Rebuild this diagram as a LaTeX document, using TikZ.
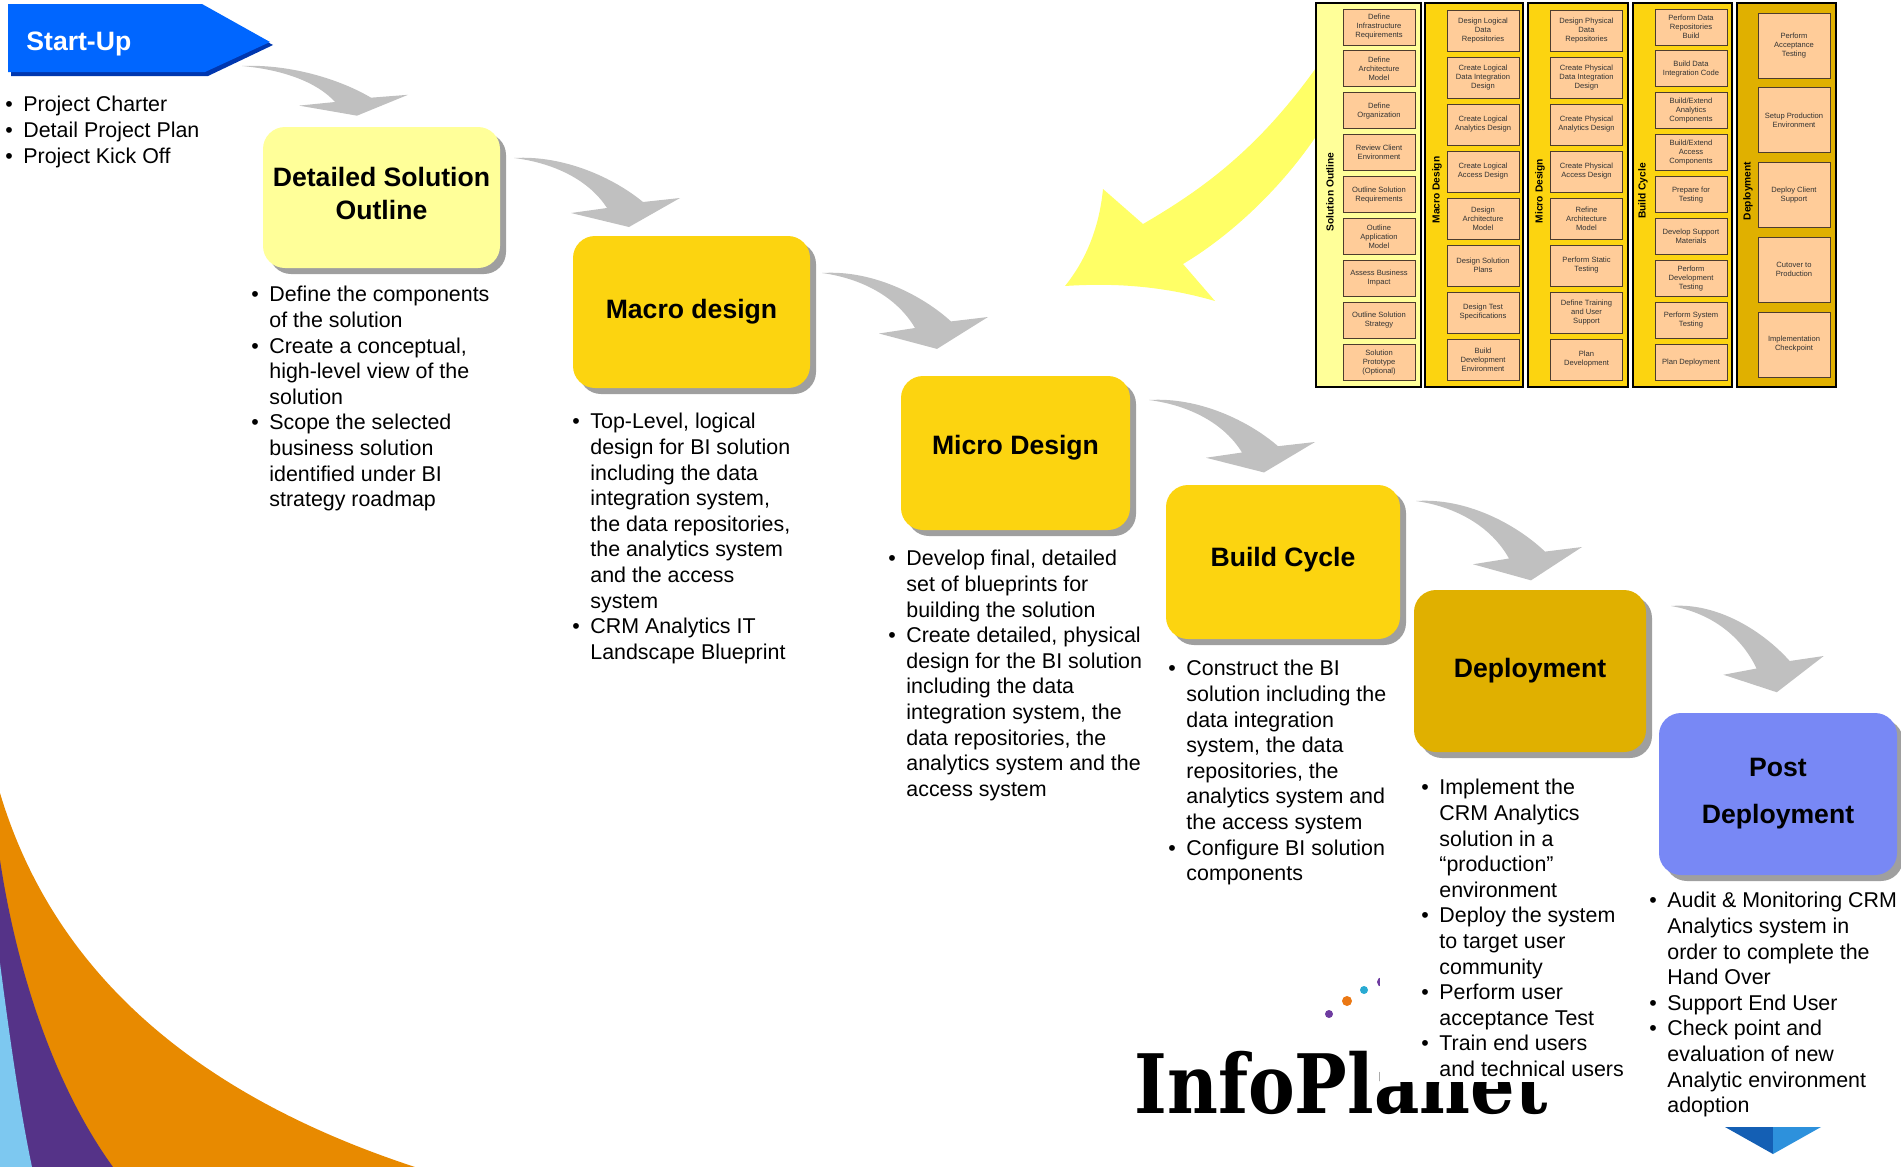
\documentclass[tikz,border=0pt]{standalone}
\usepackage{fontspec}
\setmainfont{Liberation Sans}
\newfontfamily\logofont{DejaVu Serif}
\usetikzlibrary{shadows}

\definecolor{startblue}{RGB}{0,102,255}
\definecolor{startshade}{RGB}{0,55,175}
\definecolor{paleyellow}{RGB}{255,255,153}
\definecolor{gold}{RGB}{252,212,16}
\definecolor{darkgold}{RGB}{224,176,0}
\definecolor{periwinkle}{RGB}{120,136,245}
\definecolor{flowgray}{RGB}{192,192,192}
\definecolor{hiyellow}{RGB}{255,255,102}
\definecolor{peach}{RGB}{255,204,153}
\definecolor{taskedge}{RGB}{77,60,45}
\definecolor{swooshorange}{RGB}{232,138,0}
\definecolor{swooshpurple}{RGB}{85,51,136}
\definecolor{swooshblue}{RGB}{125,200,240}
\definecolor{dotpurple}{RGB}{110,60,160}
\definecolor{dotorange}{RGB}{235,120,20}
\definecolor{dotcyan}{RGB}{40,170,210}
\definecolor{cubedark}{RGB}{20,95,180}
\definecolor{cubelight}{RGB}{45,145,220}

\newcommand{\itm}{\makebox[9pt][l]{\textbullet}}
\newcommand{\nxt}{\hspace*{9pt}}

\begin{document}
\begin{tikzpicture}[
       x=0.5pt, y=-0.5pt,
       stage/.style={
         rectangle,
         rounded corners=11pt,
         align=center,
         font=\fontsize{13.3}{16.5}\bfseries,
         drop shadow={shadow xshift=3pt, shadow yshift=-3pt, fill=gray!75, opacity=1}
       },
       notes/.style={
         anchor=north west,
         align=left,
         inner sep=0pt,
         font=\fontsize{10.7}{12.8}\selectfont
       },
       phase/.style={draw=black, line width=0.6pt},
       phaselabel/.style={rotate=90, inner sep=0pt, font=\fontsize{5.1}{6}\bfseries},
       task/.style={
         draw=taskedge,
         fill=peach,
         line width=0.5pt,
         minimum width=36pt,
         inner sep=0pt,
         align=center,
         text=black!80,
         font=\fontsize{3.8}{4.5}\selectfont
       },
       grayflow/.pic={
         \fill[flowgray] (0,0) .. controls (50,-3) and (100,20) .. (129,44)
           -- (166,40) -- (115,69) -- (57,55) -- (93,50)
           .. controls (75,22) and (40,5) .. (0,0) -- cycle;
       }
     ]
       \useasboundingbox (0,0) rectangle (1901,1167);

       % corner swooshes
       \fill[swooshorange] (0,793) .. controls (50,960) and (180,1090) .. (415,1167) -- (0,1167) -- cycle;
       \fill[swooshpurple] (0,860) .. controls (15,960) and (50,1080) .. (113,1167) -- (0,1167) -- cycle;
       \fill[swooshblue] (0,963) .. controls (10,1040) and (20,1110) .. (32,1167) -- (0,1167) -- cycle;

       % big yellow arrow out of the phase table
       \fill[hiyellow] (1103,189) -- (1143,224) .. controls (1210,185) and (1270,140) .. (1335,40)
         -- (1335,105) .. controls (1300,170) and (1240,230) .. (1183,264)
         -- (1215,301) .. controls (1160,285) and (1110,283) .. (1065,286)
         .. controls (1090,255) and (1100,220) .. (1103,189) -- cycle;

       % phase table
       \draw[phase, fill=paleyellow] (1316,3) rectangle (1421,387);
       \draw[phase, fill=gold] (1425,3) rectangle (1523,387);
       \draw[phase, fill=gold] (1528,3) rectangle (1628,387);
       \draw[phase, fill=gold] (1633,3) rectangle (1732,387);
       \draw[phase, fill=darkgold] (1737,3) rectangle (1836,387);

       \node[phaselabel] (so) at (1330,192) {Solution Outline};
       \node[phaselabel] (ma) at (1437,190) {Macro Design};
       \node[phaselabel] (mi) at (1540,191) {Micro Design};
       \node[phaselabel] (bc) at (1643,191) {Build Cycle};
       \node[phaselabel] (de) at (1748,191) {Deployment};

       \foreach \t [count=\i from 0] in {{Define\\Infrastructure\\Requirements},
           {Define\\Architecture\\Model}, {Define\\Organization}, {Review Client\\Environment},
           {Outline Solution\\Requirements}, {Outline\\Application\\Model},
           {Assess Business\\Impact}, {Outline Solution\\Strategy}, {Solution\\Prototype\\(Optional)}}
         \node[task, minimum height=18pt] (so\i) at (1379,27+41.9*\i) {\t};

       \foreach \t [count=\i from 0] in {{Design Logical\\Data\\Repositories},
           {Create Logical\\Data Integration\\Design}, {Create Logical\\Analytics Design},
           {Create Logical\\Access Design}, {Design\\Architecture\\Model}, {Design Solution\\Plans},
           {Design Test\\Specifications}, {Build\\Development\\Environment}}
         \node[task, minimum height=20.5pt] (ma\i) at (1483,30.5+47*\i) {\t};

       \foreach \t [count=\i from 0] in {{Design Physical\\Data\\Repositories},
           {Create Physical\\Data Integration\\Design}, {Create Physical\\Analytics Design},
           {Create Physical\\Access Design}, {Refine\\Architecture\\Model}, {Perform Static\\Testing},
           {Define Training\\and User\\Support}, {Plan\\Development}}
         \node[task, minimum height=20.5pt] (mi\i) at (1586.5,30.5+47*\i) {\t};

       \foreach \t [count=\i from 0] in {{Perform Data\\Repositories\\Build},
           {Build Data\\Integration Code}, {Build/Extend\\Analytics\\Components},
           {Build/Extend\\Access\\Components}, {Prepare for\\Testing}, {Develop Support\\Materials},
           {Perform\\Development\\Testing}, {Perform System\\Testing}, {Plan Deployment}}
         \node[task, minimum height=18pt] (bc\i) at (1691,27+41.9*\i) {\t};

       \foreach \t [count=\i from 0] in {{Perform\\Acceptance\\Testing},
           {Setup Production\\Environment}, {Deploy Client\\Support}, {Cutover to\\Production},
           {Implementation\\Checkpoint}}
         \node[task, minimum height=32.5pt] (de\i) at (1794,45.5+74.75*\i) {\t};

       % start-up tab
       \fill[startshade] (11,8) -- (205,8) -- (273,45) -- (208,76) -- (11,76) -- cycle;
       \fill[startblue] (8,4) -- (202,4) -- (270,42) -- (205,72) -- (8,72) -- cycle;
       \node[anchor=base west, inner sep=0pt, text=white, font=\fontsize{13.3}{15}\bfseries] (startup) at (26,50) {Start-Up};

       % gray flow arrows
       \pic[yscale=0.72] at (242,66) {grayflow};
       \pic at (514,158) {grayflow};
       \pic[yscale=1.1] at (822,273) {grayflow};
       \pic[yscale=1.05] at (1149,400) {grayflow};
       \pic[yscale=1.15] at (1416,501) {grayflow};
       \pic[xscale=0.92, yscale=1.25] at (1671,606) {grayflow};

       % phases
       \node[stage, fill=paleyellow, minimum width=118.5pt, minimum height=70.5pt, text depth=4pt] (dso) at (381.5,197.5) {Detailed Solution\\Outline};
       \node[stage, fill=gold, minimum width=118.5pt, minimum height=76pt] (macro) at (691.5,312) {Macro design};
       \node[stage, fill=gold, minimum width=114.5pt, minimum height=77pt, text depth=8pt] (micro) at (1015.5,453) {Micro Design};
       \node[stage, fill=gold, minimum width=117pt, minimum height=77pt, text depth=5.5pt] (build) at (1283,562) {Build Cycle};
       \node[stage, fill=darkgold, minimum width=116pt, minimum height=81pt] (deploy) at (1530,671) {Deployment};
       \node[stage, fill=periwinkle, minimum width=119pt, minimum height=81pt, font=\fontsize{13.3}{23.5}\bfseries] (post) at (1778,794) {Post\\Deployment};

       % logo
       \fill[dotpurple] (1329,1014) circle (2pt);
       \fill[dotorange] (1347,1001) circle (2.5pt);
       \fill[dotcyan] (1364,990) circle (2pt);
       \fill[dotpurple] (1382,982) circle (2.5pt);
       \node[anchor=base west, inner sep=0pt, font=\logofont\bfseries\fontsize{41}{41}\selectfont] (logo) at (1134,1113) {\scalebox{0.854}[1]{InfoPlanet}};
       \fill[white] (1380,778) rectangle (1650,1082);
       \fill[cubedark] (1725,1127) -- (1773,1127) -- (1773,1154) -- cycle;
       \fill[cubelight] (1773,1127) -- (1821,1127) -- (1773,1154) -- cycle;

       % notes under each phase
       \node[notes] (n0) at (5,96) {\itm Project Charter\\ \itm Detail Project Plan\\ \itm Project Kick Off};
       \node[notes] (n1) at (251,286) {\itm Define the components\\ \nxt of the solution\\
         \itm Create a conceptual,\\ \nxt high-level view of the\\ \nxt solution\\
         \itm Scope the selected\\ \nxt business solution\\ \nxt identified under BI\\ \nxt strategy roadmap};
       \node[notes] (n2) at (572,413) {\itm Top-Level, logical\\ \nxt design for BI solution\\
         \nxt including the data\\ \nxt integration system,\\ \nxt the data repositories,\\
         \nxt the analytics system\\ \nxt and the access\\ \nxt system\\
         \itm CRM Analytics IT\\ \nxt Landscape Blueprint};
       \node[notes] (n3) at (888,550) {\itm Develop final, detailed\\ \nxt set of blueprints for\\
         \nxt building the solution\\ \itm Create detailed, physical\\ \nxt design for the BI solution\\
         \nxt including the data\\ \nxt integration system, the\\ \nxt data repositories, the\\
         \nxt analytics system and the\\ \nxt access system};
       \node[notes] (n4) at (1168,660) {\itm Construct the BI\\ \nxt solution including the\\
         \nxt data integration\\ \nxt system, the data\\ \nxt repositories, the\\
         \nxt analytics system and\\ \nxt the access system\\ \itm Configure BI solution\\ \nxt components};
       \node[notes] (n5) at (1421,779) {\itm Implement the\\ \nxt CRM Analytics\\ \nxt solution in a\\
         \nxt “production”\\ \nxt environment\\ \itm Deploy the system\\ \nxt to target user\\
         \nxt community\\ \itm Perform user\\ \nxt acceptance Test\\ \itm Train end users\\
         \nxt and technical users};
       \node[notes] (n6) at (1649,892) {\itm Audit \& Monitoring CRM\\ \nxt Analytics system in\\
         \nxt order to complete the\\ \nxt Hand Over\\ \itm Support End User\\
         \itm Check point and\\ \nxt evaluation of new\\ \nxt Analytic environment\\ \nxt adoption};

\end{tikzpicture}
\end{document}
